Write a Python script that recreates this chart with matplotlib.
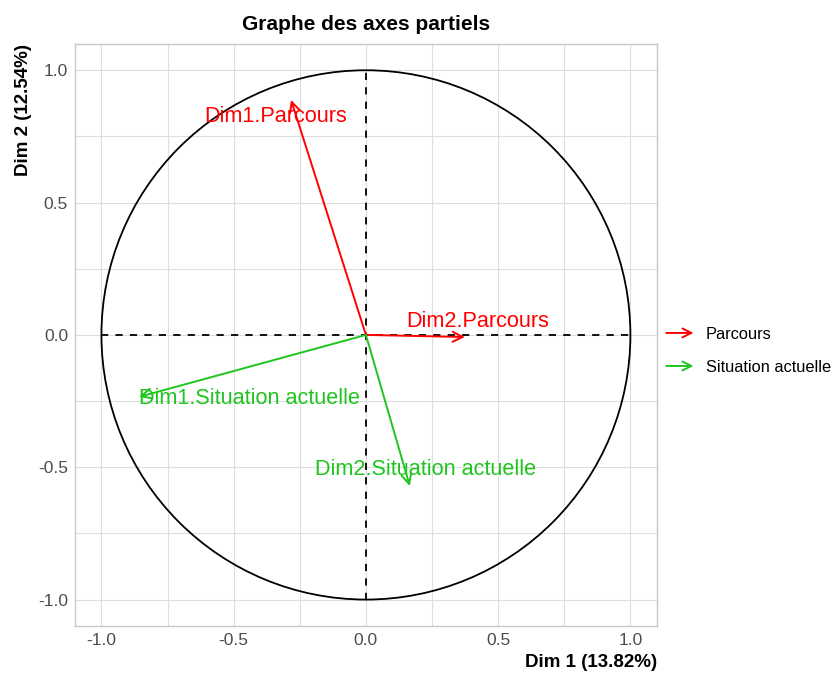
import numpy as np
import matplotlib.pyplot as plt
from matplotlib.patches import FancyArrowPatch, Circle
from matplotlib.legend_handler import HandlerBase

plt.rcParams['font.family'] = ['Liberation Sans', 'DejaVu Sans']

# coordonnees des axes partiels
labels = ['Dim1.Parcours', 'Dim2.Parcours', 'Dim1.Situation actuelle', 'Dim2.Situation actuelle']
groups = ['Parcours', 'Parcours', 'Situation actuelle', 'Situation actuelle']
dim1 = [-0.283, 0.374, -0.857, 0.166]
dim2 = [0.888, -0.008, -0.234, -0.571]

colors = {'Parcours': '#ff0000', 'Situation actuelle': '#1fc51f'}
# decalage des etiquettes par rapport a la pointe
offsets = [(-0.057, -0.064), (0.049, 0.057), (0.415, -0.008), (0.060, 0.064)]

fig = plt.figure(figsize=(8.36, 6.77), dpi=100)
ax = fig.add_axes([0.0897, 0.0753, 0.696, 0.860])

ax.set_xlim(-1.1, 1.1)
ax.set_ylim(-1.1, 1.1)
ticks = [-1.0, -0.5, 0.0, 0.5, 1.0]
ax.set_xticks(ticks)
ax.set_yticks(ticks)
ax.set_xticks(np.arange(-1.0, 1.01, 0.25), minor=True)
ax.set_yticks(np.arange(-1.0, 1.01, 0.25), minor=True)
ax.set_xticklabels(['-1.0', '-0.5', '0.0', '0.5', '1.0'])
ax.set_yticklabels(['-1.0', '-0.5', '0.0', '0.5', '1.0'])
ax.grid(True, which='both', color='#dedede', linewidth=0.8)
ax.set_axisbelow(True)
ax.tick_params(which='both', length=0, labelsize=12.5, labelcolor='#4d4d4d', pad=5)
for s in ax.spines.values():
    s.set_color('#c8c8c8')
    s.set_linewidth(1.0)

ax.add_patch(Circle((0, 0), 1, fill=False, color='black', linewidth=1.3))
ax.plot([-1, 1], [0, 0], color='black', linestyle=(0, (4, 4)), linewidth=1.3)
ax.plot([0, 0], [-1, 1], color='black', linestyle=(0, (4, 4)), linewidth=1.3)

for lab, g, x, y, (dx, dy) in zip(labels, groups, dim1, dim2, offsets):
    ax.annotate('', xy=(x, y), xytext=(0, 0),
                arrowprops=dict(arrowstyle='->', color=colors[g], lw=1.4,
                                mutation_scale=18, shrinkA=0, shrinkB=0))
    ax.text(x + dx, y + dy, lab, color=colors[g], fontsize=15.6,
            ha='center', va='center')

ax.set_title('Graphe des axes partiels', fontsize=15, fontweight='bold', pad=10)
ax.set_xlabel('Dim 1 (13.82%)', fontsize=13.5, fontweight='bold', loc='right', labelpad=4)
ax.set_ylabel('Dim 2 (12.54%)', fontsize=13.5, fontweight='bold', loc='top', labelpad=4)


class ArrowHandler(HandlerBase):
    def create_artists(self, legend, orig, xd, yd, w, h, fontsize, trans):
        a = FancyArrowPatch((xd, yd + h / 2), (xd + w, yd + h / 2),
                            arrowstyle='->', mutation_scale=16,
                            color=orig.get_edgecolor(), lw=1.4, transform=trans)
        return [a]


handles = [FancyArrowPatch((0, 0), (1, 0), color=colors[g]) for g in colors]
fig.legend(handles, list(colors.keys()), handler_map={FancyArrowPatch: ArrowHandler()},
           loc='center left', bbox_to_anchor=(0.776, 0.482), frameon=False,
           fontsize=11.8, handlelength=2.0, labelspacing=1.1, handletextpad=0.6)

plt.savefig('out.png', dpi=100)
